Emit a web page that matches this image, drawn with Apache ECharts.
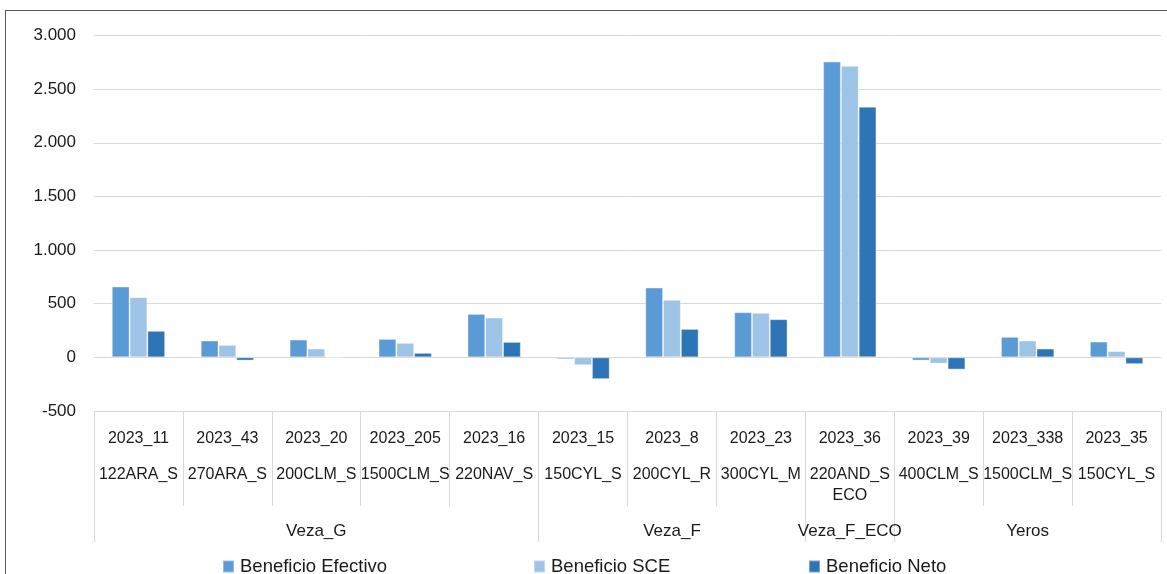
<!DOCTYPE html>
<html>
<head>
<meta charset="utf-8">
<script src="https://cdn.jsdelivr.net/npm/echarts@6/dist/echarts.min.js"></script>
<style>
  html, body { margin: 0; padding: 0; background: #fff; overflow: hidden; }
  #wrap { position: relative; width: 1167px; height: 574px; }
  #frame { position: absolute; left: 5px; top: 10px; width: 1200px; height: 600px; border-left: 1px solid #5a5a5a; border-top: 1px solid #5a5a5a; box-sizing: border-box; }
  #chart { position: absolute; left: 0; top: 0; width: 1167px; height: 574px; }
</style>
</head>
<body>
<div id="wrap">
  <div id="frame"></div>
  <div id="chart"></div>
</div>
<script>
// ---- data ----
const years = ['2023_11','2023_43','2023_20','2023_205','2023_16','2023_15','2023_8','2023_23','2023_36','2023_39','2023_338','2023_35'];
const codes = ['122ARA_S','270ARA_S','200CLM_S','1500CLM_S','220NAV_S','150CYL_S','200CYL_R','300CYL_M','220AND_S\nECO','400CLM_S','1500CLM_S','150CYL_S'];
const groupNames = ['Veza_G','Veza_F','Veza_F_ECO','Yeros'];
const groupSizes = [5, 3, 1, 3];
const seriesNames = ['Beneficio Efectivo','Beneficio SCE','Beneficio Neto'];
const efectivo = [660, 157, 166, 172, 405, -17, 650, 421, 2757, -30, 191, 147];
const sce      = [561, 116,  82, 135, 371, -73, 536, 415, 2717, -58, 157,  58];
const neto     = [247, -30,  -8,  42, 144, -203, 265, 356, 2337, -114, 82, -63];
const yTicks = { min: -500, max: 3000, interval: 500 };

// ---- derived ----
const groupOfCat = [];
const groupStart = new Set();
const groupMid = {};
let idx = 0;
groupNames.forEach((g, gi) => {
  groupStart.add(idx);
  groupMid[idx + Math.floor(groupSizes[gi] / 2)] = g;
  for (let k = 0; k < groupSizes[gi]; k++) { groupOfCat.push(g); idx++; }
});

const FONT = 'Liberation Sans';
const TXT = '#1a1a1a';
const colors = ['#5b9bd5', '#9dc3e6', '#2e75b6'];

const catLabels = years.map((y, i) => {
  const parts = codes[i].split('\n').map(p => '{b|' + p + '}');
  return '{a|' + y + '}\n' + parts.join('\n');
});

const chart = echarts.init(document.getElementById('chart'), null, { renderer: 'canvas' });

function fmt(v) {
  const s = Math.abs(v).toString().replace(/\B(?=(\d{3})+(?!\d))/g, '.');
  return (v < 0 ? '-' : '') + s;
}

const legendX = [222, 533, 808];

chart.setOption({
  animation: false,
  textStyle: { fontFamily: FONT },
  grid: { left: 94, right: 6, top: 35.5, bottom: 163, containLabel: false },
  legend: seriesNames.map((n, i) => ({
    data: [n],
    left: legendX[i],
    top: 557,
    padding: 0,
    itemWidth: 11,
    itemHeight: 12,
    itemGap: 6,
    icon: 'rect',
    textStyle: { fontFamily: FONT, fontSize: 18.5, color: TXT, padding: [0, 0, 0, 1] },
    selectedMode: false
  })),
  xAxis: [
    {
      type: 'category',
      position: 'bottom',
      data: catLabels,
      axisLine: { show: false, onZero: false },
      axisTick: { show: true, length: 95, lineStyle: { color: '#d9d9d9' } },
      axisLabel: {
        interval: 0,
        margin: 3,
        fontFamily: FONT,
        color: TXT,
        rich: {
          a: { fontFamily: FONT, fontSize: 16, color: TXT, lineHeight: 50 },
          b: { fontFamily: FONT, fontSize: 16, color: TXT, lineHeight: 21 }
        }
      }
    },
    {
      type: 'category',
      position: 'bottom',
      data: groupOfCat,
      axisLine: { show: false, onZero: false },
      axisTick: {
        show: true,
        length: 131,
        interval: (i) => groupStart.has(i),
        lineStyle: { color: '#d9d9d9' }
      },
      axisLabel: {
        interval: (i) => groupMid[i] !== undefined,
        margin: 112,
        fontFamily: FONT,
        fontSize: 17,
        color: TXT
      }
    }
  ],
  yAxis: {
    type: 'value',
    min: yTicks.min,
    max: yTicks.max,
    interval: yTicks.interval,
    axisLine: { show: false },
    axisTick: { show: false },
    splitLine: { lineStyle: { color: '#d9d9d9', width: 1 } },
    axisLabel: { margin: 18, fontFamily: FONT, fontSize: 17, color: TXT, formatter: fmt }
  },
  series: [efectivo, sce, neto].map((d, i) => ({
    name: seriesNames[i],
    type: 'bar',
    xAxisIndex: 0,
    data: d,
    barGap: '0%',
    barCategoryGap: '40%',
    itemStyle: { color: colors[i], borderColor: 'rgba(255,255,255,0.35)', borderWidth: 1 }
  }))
});
</script>
</body>
</html>
